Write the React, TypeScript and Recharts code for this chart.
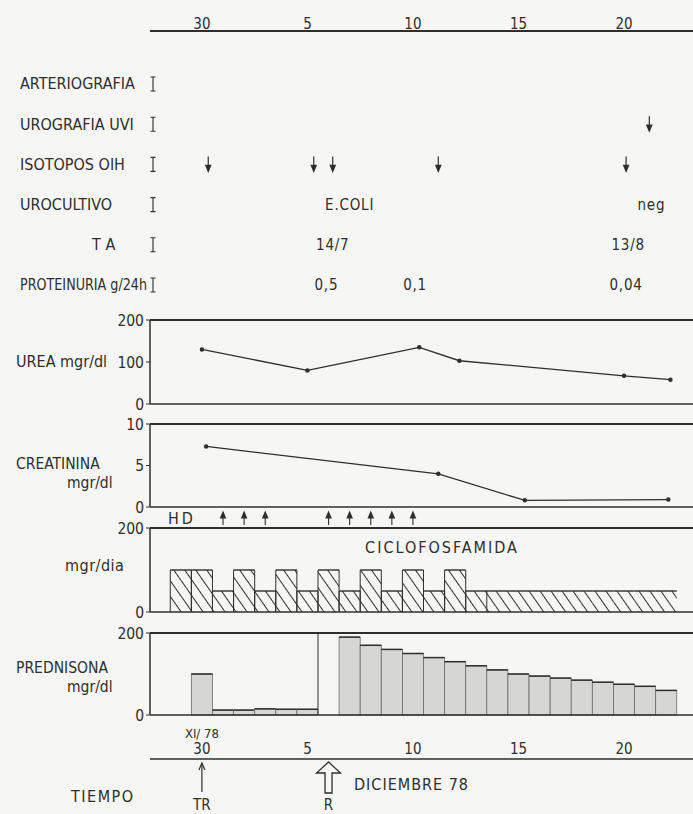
import React from "react";
import {
  BarChart,
  Bar,
  LineChart,
  Line,
  ScatterChart,
  Scatter,
  XAxis,
  YAxis,
  ReferenceLine
} from "recharts";

const FONT = "'DejaVu Sans Condensed', 'DejaVu Sans', sans-serif";
const INK = "#2e2e2e";
const BG = "#f6f6f4";
const W = 693;
const DOMAIN: [number, number] = [-2.46, 23.27];

// time axis (days from 30 Nov 78)
const tickDays = [0, 5, 10, 15, 20];
const tickLabels = ["30", "5", "10", "15", "20"];
const monthLabel = "XI/ 78";

// event rows
const rowNames = ["ARTERIOGRAFIA", "UROGRAFIA UVI", "ISOTOPOS OIH", "UROCULTIVO", "TA", "PROTEINURIA g/24h"];
const urografiaDays = [21.2];
const isotoposDays = [0.3, 5.3, 6.2, 11.2, 20.1];
const urocultivoDays = [7, 21.3];
const urocultivoValues = ["E.COLI", "neg"];
const taDays = [6.2, 20.2];
const taValues = ["14/7", "13/8"];
const proteinuriaDays = [5.9, 10.1, 20.1];
const proteinuriaValues = ["0,5", "0,1", "0,04"];

// lab values
const ureaDays = [0, 5, 10.3, 12.2, 20, 22.2];
const ureaValues = [130, 80, 135, 103, 67, 58];
const creatDays = [0.2, 11.2, 15.3, 22.1];
const creatValues = [7.3, 4.0, 0.8, 0.9];
const hdDays = [1, 2, 3, 6, 7, 8, 9, 10];

// drugs
const cicloDays = [-1, 0, 1, 2, 3, 4, 5, 6, 7, 8, 9, 10, 11, 12, 13, 14, 15, 16, 17, 18, 19, 20, 21, 22];
const cicloValues = [100, 100, 50, 100, 50, 100, 50, 100, 50, 100, 50, 100, 50, 100, 50, 50, 50, 50, 50, 50, 50, 50, 50, 50];
const predDays = [0, 1, 2, 3, 4, 5, 7, 8, 9, 10, 11, 12, 13, 14, 15, 16, 17, 18, 19, 20, 21, 22];
const predValues = [100, 12, 12, 15, 14, 14, 190, 170, 160, 150, 140, 130, 120, 110, 100, 95, 90, 85, 80, 75, 70, 60];

const markerDays = [0, 6];
const markerLabels = ["TR", "R"];

const eventData = [
  ...urografiaDays.map((day) => ({ day, row: 1 })),
  ...isotoposDays.map((day) => ({ day, row: 2 })),
  ...urocultivoDays.map((day, i) => ({ day, row: 3, text: urocultivoValues[i] })),
  ...taDays.map((day, i) => ({ day, row: 4, text: taValues[i] })),
  ...proteinuriaDays.map((day, i) => ({ day, row: 5, text: proteinuriaValues[i] }))
];
const ureaData = ureaDays.map((day, i) => ({ day, v: ureaValues[i] }));
const creatData = creatDays.map((day, i) => ({ day, v: creatValues[i] }));
const hdData = hdDays.map((day) => ({ day, y: 1 }));
const cicloData = cicloDays.map((day, i) => ({ day, v: cicloValues[i] }));
const predData = predDays.map((day, i) => ({ day, v: predValues[i] }));
const markerData = markerDays.map((day, i) => ({ day, y: 1, label: markerLabels[i] }));

const tickStyle = { fontSize: 15.5, fill: INK, fontFamily: FONT };

const TopTick = (props: any) => {
  const { x, y, payload } = props;
  const i = tickDays.indexOf(payload.value);
  return (
    <g>
      {payload.value === 0 && props.month ? (
        <text x={x} y={y - 16} textAnchor="middle" fontSize={13} fill={INK} fontFamily={FONT}>{monthLabel}</text>
      ) : null}
      <text x={x} y={y} textAnchor="middle" fontSize={15} fill={INK} fontFamily={FONT}>{tickLabels[i]}</text>
    </g>
  );
};

const RowTick = (props: any) => {
  const { y, payload } = props;
  const name = rowNames[payload.value];
  const isTa = name === "TA";
  const squeeze = payload.value === 5;
  return (
    <g>
      <text
        x={isTa ? 92 : 20}
        y={y}
        dominantBaseline="central"
        fontSize={16}
        fontFamily={FONT}
        fill={INK}
        letterSpacing={isTa ? 6 : 0}
        textLength={squeeze ? 127 : undefined}
        lengthAdjust={squeeze ? "spacingAndGlyphs" : undefined}
      >
        {name}
      </text>
      <path d={`M150.5,${y - 7}h5M153,${y - 7}v14M150.5,${y + 7}h5`} stroke={INK} strokeWidth={1.1} fill="none" />
    </g>
  );
};

const EventMark = (props: any) => {
  const { cx, cy, payload } = props;
  if (payload.text) {
    return (
      <text x={cx} y={cy} textAnchor="middle" dominantBaseline="central" fontSize={15} letterSpacing={0.8} fontFamily={FONT} fill={INK}>
        {payload.text}
      </text>
    );
  }
  return (
    <g stroke={INK} strokeWidth={1.2} fill={INK}>
      <line x1={cx} y1={cy - 8} x2={cx} y2={cy + 5} />
      <path d={`M${cx - 2.5},${cy + 1}L${cx},${cy + 7}L${cx + 2.5},${cy + 1}Z`} />
    </g>
  );
};

const HdArrow = (props: any) => {
  const { cx, cy } = props;
  return (
    <g stroke={INK} strokeWidth={1.1} fill={INK}>
      <line x1={cx} y1={cy + 6} x2={cx} y2={cy - 4} />
      <path d={`M${cx - 2.5},${cy - 1}L${cx},${cy - 7}L${cx + 2.5},${cy - 1}Z`} />
    </g>
  );
};

const TimeMarker = (props: any) => {
  const { cx, cy, payload } = props;
  const hollow = payload.label === "R";
  return (
    <g>
      {hollow ? (
        <path
          d={`M${cx},${cy + 3}L${cx + 12},${cy + 14}L${cx + 3.5},${cy + 14}L${cx + 3.5},${cy + 34}L${cx - 3.5},${cy + 34}L${cx - 3.5},${cy + 14}L${cx - 12},${cy + 14}Z`}
          fill="none"
          stroke={INK}
          strokeWidth={1.3}
        />
      ) : (
        <g stroke={INK} strokeWidth={1.2} fill="none">
          <line x1={cx} y1={cy + 4} x2={cx} y2={cy + 33} />
          <path d={`M${cx - 3},${cy + 11}L${cx},${cy + 4}L${cx + 3},${cy + 11}`} />
        </g>
      )}
      <text x={cx} y={cy + 46} textAnchor="middle" dominantBaseline="central" fontSize={15} fontFamily={FONT} fill={INK}>
        {payload.label}
      </text>
    </g>
  );
};

const HatchBar = (props: any) => {
  const { x, y, width, height, payload } = props;
  const boxed = payload.day <= 13;
  return (
    <g>
      <rect x={x} y={y} width={width} height={height} fill="url(#hatch)" />
      <line x1={x} y1={y} x2={x + width} y2={y} stroke={INK} strokeWidth={1.4} />
      {boxed ? (
        <path d={`M${x},${y + height}V${y}M${x + width},${y}V${y + height}`} stroke={INK} strokeWidth={1} fill="none" />
      ) : null}
    </g>
  );
};

const GreyBar = (props: any) => {
  const { x, y, width, height } = props;
  return (
    <g>
      <rect x={x} y={y} width={width} height={height} fill="#d6d6d4" stroke="#6a6a6a" strokeWidth={0.8} />
      <line x1={x} y1={y} x2={x + width} y2={y} stroke={INK} strokeWidth={1.5} />
    </g>
  );
};

const Txt = ({ x, y, children, size = 16, center = false, spacing = 0 }: any) => (
  <div
    style={{
      position: "absolute",
      left: x,
      top: y - size / 2,
      fontSize: size,
      lineHeight: `${size}px`,
      whiteSpace: "nowrap",
      fontFamily: FONT,
      color: INK,
      letterSpacing: spacing,
      transform: center ? "translateX(-50%)" : undefined
    }}
  >
    {children}
  </div>
);

const axisLine = { stroke: INK, strokeWidth: 1.5 };
const panelMargin = { top: 10, right: 0, bottom: 10, left: 0 };

export default function App() {
  return (
    <div style={{ position: "absolute", left: 0, top: 0, width: W, height: 814, background: BG, overflow: "hidden" }}>
      <svg width={0} height={0} style={{ position: "absolute" }}>
        <defs>
          <pattern id="hatch" patternUnits="userSpaceOnUse" width={9} height={9} patternTransform="rotate(-35)">
            <line x1={4.5} y1={0} x2={4.5} y2={9} stroke={INK} strokeWidth={1} />
          </pattern>
        </defs>
      </svg>

      {/* time axis and event rows */}
      <div style={{ position: "absolute", left: 0, top: 0 }}>
        <ScatterChart width={W} height={305} margin={{ top: 1, right: 0, bottom: 0, left: 0 }}>
          <XAxis
            type="number"
            dataKey="day"
            orientation="top"
            height={30}
            domain={DOMAIN}
            allowDataOverflow
            ticks={tickDays}
            tick={<TopTick />}
            tickLine={false}
            tickSize={0}
            tickMargin={2}
            axisLine={{ stroke: INK, strokeWidth: 2 }}
          />
          <YAxis
            type="number"
            dataKey="row"
            reversed
            domain={[-1.318, 5.498]}
            allowDataOverflow
            ticks={[0, 1, 2, 3, 4, 5]}
            interval={0}
            width={150}
            axisLine={false}
            tickLine={false}
            tick={<RowTick />}
          />
          <Scatter data={eventData} shape={<EventMark />} isAnimationActive={false} />
        </ScatterChart>
      </div>

      {/* urea */}
      <div style={{ position: "absolute", left: 0, top: 310 }}>
        <LineChart width={W} height={104} data={ureaData} margin={panelMargin}>
          <XAxis type="number" dataKey="day" domain={DOMAIN} allowDataOverflow hide />
          <YAxis type="number" domain={[0, 200]} ticks={[0, 100, 200]} width={150} axisLine={axisLine} tickLine={{ stroke: INK }} tickSize={4} tickMargin={2} tick={tickStyle} />
          <ReferenceLine y={200} stroke={INK} strokeWidth={2} />
          <ReferenceLine y={0} stroke={INK} strokeWidth={1.6} />
          <Line type="linear" dataKey="v" stroke={INK} strokeWidth={1.3} dot={{ r: 1.6, fill: INK, stroke: INK }} isAnimationActive={false} />
        </LineChart>
      </div>

      {/* creatinina */}
      <div style={{ position: "absolute", left: 0, top: 414 }}>
        <LineChart width={W} height={103} data={creatData} margin={panelMargin}>
          <XAxis type="number" dataKey="day" domain={DOMAIN} allowDataOverflow hide />
          <YAxis type="number" domain={[0, 10]} ticks={[0, 5, 10]} width={150} axisLine={axisLine} tickLine={{ stroke: INK }} tickSize={4} tickMargin={2} tick={tickStyle} />
          <ReferenceLine y={10} stroke={INK} strokeWidth={2} />
          <ReferenceLine y={0} stroke={INK} strokeWidth={1.6} />
          <Line type="linear" dataKey="v" stroke={INK} strokeWidth={1.3} dot={{ r: 1.6, fill: INK, stroke: INK }} isAnimationActive={false} />
        </LineChart>
      </div>

      {/* HD sessions */}
      <div style={{ position: "absolute", left: 0, top: 508 }}>
        <ScatterChart width={W} height={22} margin={{ top: 0, right: 0, bottom: 0, left: 150 }}>
          <XAxis type="number" dataKey="day" domain={DOMAIN} allowDataOverflow hide />
          <YAxis type="number" dataKey="y" domain={[0, 2]} hide />
          <Scatter data={hdData} shape={<HdArrow />} isAnimationActive={false} />
        </ScatterChart>
      </div>

      {/* ciclofosfamida */}
      <div style={{ position: "absolute", left: 0, top: 518 }}>
        <BarChart width={W} height={104} data={cicloData} margin={panelMargin} barCategoryGap={0} barGap={0}>
          <XAxis type="number" dataKey="day" domain={DOMAIN} allowDataOverflow hide />
          <YAxis type="number" domain={[0, 200]} ticks={[0, 200]} width={150} axisLine={axisLine} tickLine={{ stroke: INK }} tickSize={4} tickMargin={2} tick={tickStyle} />
          <Bar dataKey="v" barSize={21.1} shape={<HatchBar />} isAnimationActive={false} />
          <ReferenceLine y={200} stroke={INK} strokeWidth={2} />
          <ReferenceLine y={0} stroke={INK} strokeWidth={1.6} />
        </BarChart>
      </div>

      {/* prednisona */}
      <div style={{ position: "absolute", left: 0, top: 623 }}>
        <BarChart width={W} height={102} data={predData} margin={panelMargin} barCategoryGap={0} barGap={0}>
          <XAxis type="number" dataKey="day" domain={DOMAIN} allowDataOverflow hide />
          <YAxis type="number" domain={[0, 200]} ticks={[0, 200]} width={150} axisLine={axisLine} tickLine={{ stroke: INK }} tickSize={4} tickMargin={2} tick={tickStyle} />
          <Bar dataKey="v" barSize={21.1} shape={<GreyBar />} isAnimationActive={false} />
          <ReferenceLine x={5.5} stroke={INK} strokeWidth={1} />
          <ReferenceLine y={200} stroke={INK} strokeWidth={2} />
          <ReferenceLine y={0} stroke={INK} strokeWidth={1.6} />
        </BarChart>
      </div>

      {/* bottom time axis */}
      <div style={{ position: "absolute", left: 0, top: 700 }}>
        <ScatterChart width={W} height={114} margin={{ top: 29, right: 0, bottom: 0, left: 150 }}>
          <XAxis
            type="number"
            dataKey="day"
            orientation="top"
            height={30}
            domain={DOMAIN}
            allowDataOverflow
            ticks={tickDays}
            tick={<TopTick month />}
            tickLine={false}
            tickSize={0}
            tickMargin={5}
            axisLine={{ stroke: INK, strokeWidth: 1.6 }}
          />
          <YAxis type="number" dataKey="y" domain={[0, 1]} hide />
          <Scatter data={markerData} shape={<TimeMarker />} isAnimationActive={false} />
        </ScatterChart>
      </div>

      <Txt x={16} y={362}>UREA mgr/dl</Txt>
      <Txt x={16} y={465} size={15.5}>CREATININA</Txt>
      <Txt x={67} y={484} size={15.5}>mgr/dl</Txt>
      <Txt x={168} y={519} spacing={3}>HD</Txt>
      <Txt x={442} y={548} center spacing={2}>CICLOFOSFAMIDA</Txt>
      <Txt x={65} y={566} spacing={0.5}>mgr/dia</Txt>
      <Txt x={16} y={669} size={15.5}>PREDNISONA</Txt>
      <Txt x={67} y={688} size={15.5}>mgr/dl</Txt>
      <Txt x={71} y={797} spacing={1.5}>TIEMPO</Txt>
      <Txt x={354} y={785} spacing={1}>DICIEMBRE 78</Txt>
    </div>
  );
}
